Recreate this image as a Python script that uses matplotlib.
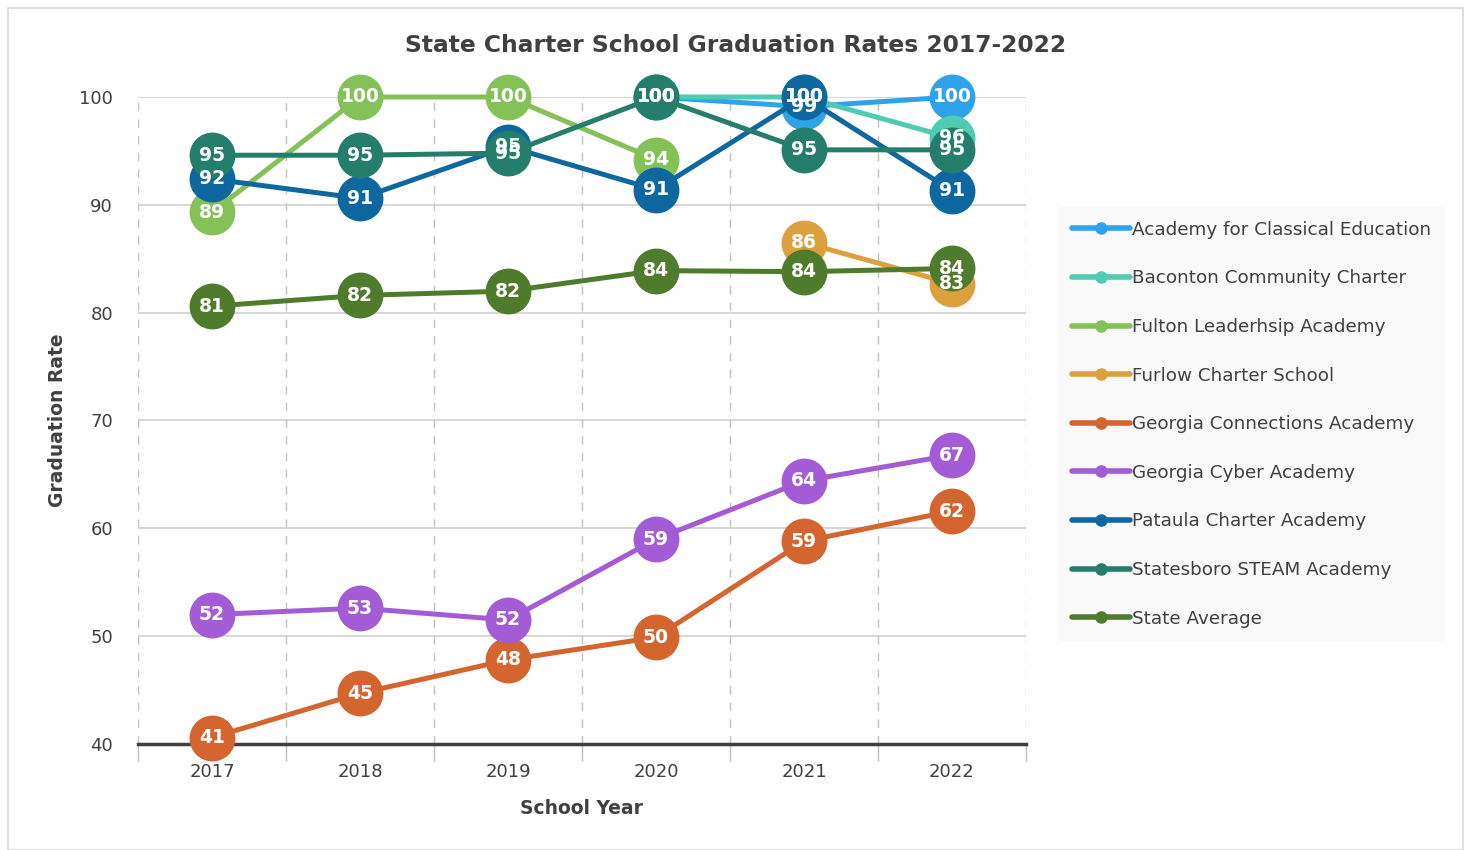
import numpy as np
import matplotlib.pyplot as plt
from matplotlib.patches import Rectangle

years = ['2017', '2018', '2019', '2020', '2021', '2022']
nan = np.nan

schools = ['Academy for Classical Education', 'Baconton Community Charter',
           'Fulton Leaderhsip Academy', 'Furlow Charter School',
           'Georgia Connections Academy', 'Georgia Cyber Academy',
           'Pataula Charter Academy', 'Statesboro STEAM Academy', 'State Average']

ace = [nan, nan, nan, 100.0, 99.1, 100.0]
baconton = [nan, nan, nan, 100.0, 100.0, 96.2]
fulton = [89.3, 100.0, 100.0, 94.2, nan, nan]
furlow = [nan, nan, nan, nan, 86.5, 82.7]
connections = [40.6, 44.7, 47.8, 49.9, 58.8, 61.6]
cyber = [52.0, 52.6, 51.5, 59.0, 64.4, 66.8]
pataula = [92.4, 90.6, 95.4, 91.4, 100.0, 91.3]
statesboro = [94.6, 94.6, 94.8, 100.0, 95.1, 95.1]
state_avg = [80.6, 81.6, 82.0, 83.9, 83.8, 84.1]

series = [ace, baconton, fulton, furlow, connections, cyber, pataula, statesboro, state_avg]
colors = ['#2EA3EC', '#4ECBB0', '#84C257', '#DDA03F', '#D4652F',
          '#A35BD6', '#0F679F', '#257E6C', '#4E7B2C']

plt.rcParams['font.family'] = ['DejaVu Sans']
txt = '#404040'

fig = plt.figure(figsize=(14.71, 8.5), dpi=100)
fig.patches.append(Rectangle((8/1471, 0), 1455/1471, 1-8/850, transform=fig.transFigure,
                             fill=False, edgecolor='#d9d9d9', lw=1.2))
ax = fig.add_axes([138/1471, 1-744/850, 888/1471, 647/850])

x = np.arange(len(years))
handles = []
for i, (name, vals, c) in enumerate(zip(schools, series, colors)):
    vals = np.array(vals)
    ax.plot(x, vals, color=c, lw=3.6, marker='o', ms=32, mec=c, mfc=c,
            zorder=3 + i * 0.1, clip_on=False, solid_capstyle='round')
    # data labels sit above every series, like Excel does it
    for xi, v in zip(x, vals):
        if not np.isnan(v):
            ax.text(xi, v, f'{v:.0f}', ha='center', va='center', color='white',
                    fontsize=13.5, fontweight='bold', zorder=10, clip_on=False)
    h, = plt.plot([], [], color=c, lw=4, marker='o', ms=8, solid_capstyle='round')
    handles.append(h)

ax.set_xlim(-0.5, 5.5)
ax.set_ylim(40, 100)
ax.set_xticks(x)
ax.set_xticklabels(years)
ax.set_xticks(np.arange(-0.5, 6, 1), minor=True)
ax.set_yticks(np.arange(40, 101, 10))
ax.grid(axis='y', which='major', color='#d0d0d0', lw=1.2)
ax.grid(axis='x', which='minor', color='#c0c0c0', lw=1, ls=(0, (6, 6)))
ax.tick_params(axis='x', which='major', length=0, pad=14, labelsize=13, labelcolor=txt)
ax.tick_params(axis='x', which='minor', length=12, color='#c0c0c0', width=1)
ax.tick_params(axis='y', length=0, pad=18, labelsize=13, labelcolor=txt)
for s in ['top', 'right', 'left']:
    ax.spines[s].set_visible(False)
ax.spines['bottom'].set_color('#404040')
ax.spines['bottom'].set_linewidth(2.5)
ax.spines['bottom'].set_zorder(2.5)
ax.set_axisbelow(True)

ax.set_xlabel('School Year', fontsize=13.5, fontweight='bold', color=txt, labelpad=13)
ax.set_ylabel('Graduation Rate', fontsize=13.5, fontweight='bold', color=txt, labelpad=9)
fig.text(0.5, 1-46/850, 'State Charter School Graduation Rates 2017-2022',
         ha='center', va='center', fontsize=16.8, fontweight='bold', color=txt)

leg = fig.legend(handles, schools, loc='upper left',
                 bbox_to_anchor=(1058/1471, 1-207/850), frameon=True,
                 fontsize=13.2, labelcolor=txt, labelspacing=1.67,
                 handlelength=3.2, handletextpad=0.1, borderpad=0.75,
                 borderaxespad=0, fancybox=False)
leg.get_frame().set_facecolor('#f8f8f8')
leg.get_frame().set_edgecolor('none')

fig.savefig('out.png', dpi=100)
